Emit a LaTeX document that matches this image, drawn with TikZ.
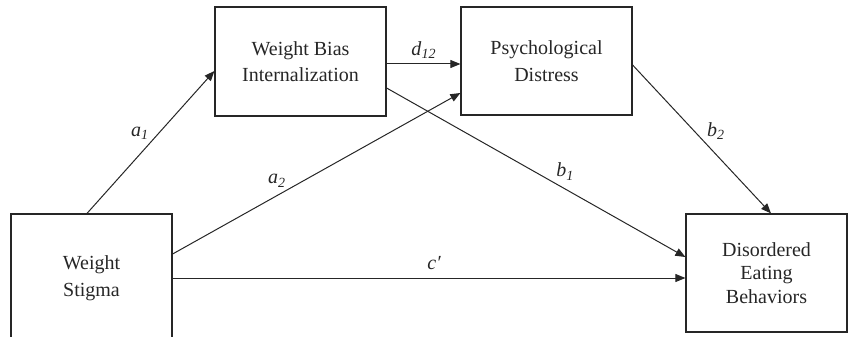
\documentclass[tikz,border=0pt]{standalone}
\usepackage{fontspec}
\setmainfont{Liberation Serif}
\usetikzlibrary{arrows.meta, positioning, calc}
\definecolor{lineInk}{HTML}{262626}
% path coefficient: italic letter with lowered italic index
\newcommand{\pathlab}[2]{\textit{#1}\raisebox{-0.35ex}{\fontsize{14}{14}\selectfont\textit{#2}}}

\begin{document}
\begin{tikzpicture}[
    % Global Styles
    x=1pt, y=-1pt,
    font=\fontsize{20}{26.5}\selectfont,
    line width=1pt,
    % Node Styles
    var/.style={
        rectangle,
        draw=lineInk,
        line width=1.2pt,
        align=center,
        text=lineInk,
        inner sep=0pt
    },
    lbl/.style={
        font=\fontsize{20}{20}\selectfont,
        text=lineInk,
        inner sep=2pt
    },
    % Arrow Style
    arrow/.style={
        -{Triangle[length=10pt, width=8pt]},
        draw=lineInk,
        line width=1pt
    }
]
\useasboundingbox (0,0) rectangle (848,337);

    % --- Nodes ---

    % 1. Predictor (runs past the lower edge)
    \node[var, minimum width=161pt, minimum height=128pt] (stigma) at (91.5,278) {Weight\\Stigma};

    % 2. Mediators
    \node[var, minimum width=171pt, minimum height=109pt] (wbi) at (300.5,61.5) {Weight Bias\\Internalization};
    \node[var, minimum width=171pt, minimum height=108pt] (distress) at (546.5,61) {Psychological\\Distress};

    % 3. Outcome
    \node[var, minimum width=161pt, minimum height=118pt, font=\fontsize{20}{23.5}\selectfont] (eating) at (766.5,273) {Disordered\\Eating\\Behaviors};

    % --- Edges ---

    % Predictor -> mediators
    \draw[arrow] ([xshift=-4.5pt]stigma.north) -- ([yshift=-9.5pt]wbi.west)
        node[lbl, pos=.5, above left] (a1) {\pathlab{a}{1}};
    \draw[arrow] ([yshift=24pt]stigma.east) -- ([yshift=-32pt]distress.west)
        node[lbl, pos=.4, above left] (a2) {\pathlab{a}{2}};

    % Serial link
    \draw[arrow] ([yshift=-2.5pt]wbi.east) -- ([yshift=-2.5pt]wbi.east -| distress.west)
        node[lbl, midway, above=3pt] (d12) {\pathlab{d}{12}};

    % Mediators -> outcome
    \draw[arrow] ([yshift=-26.5pt]wbi.east) -- ([yshift=16pt]eating.west)
        node[lbl, pos=.56, above right] (b1) {\pathlab{b}{1}};
    \draw[arrow] ([yshift=-4pt]distress.east) -- ([xshift=4.5pt]eating.north)
        node[lbl, pos=.52, above right] (b2) {\pathlab{b}{2}};

    % Direct effect
    \draw[arrow] (stigma.east) -- (stigma.east -| eating.west)
        node[lbl, pos=.51, above=6pt] (c) {\textit{c′}};

\end{tikzpicture}
\end{document}
